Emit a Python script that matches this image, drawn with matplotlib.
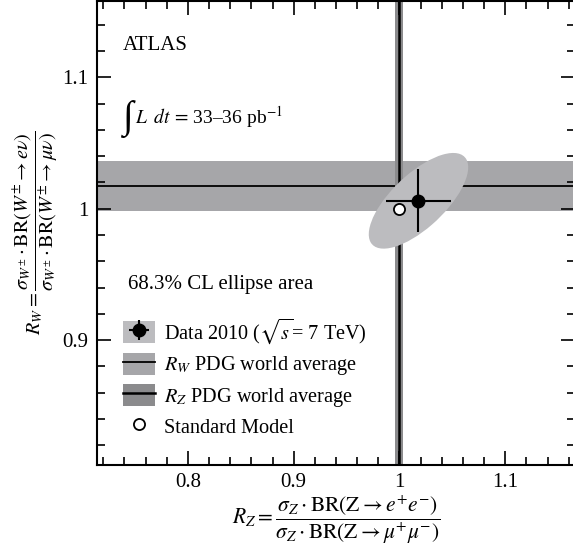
import numpy as np
import matplotlib
matplotlib.use('Agg')
import matplotlib.pyplot as plt
from matplotlib.patches import Ellipse, Patch
from matplotlib.lines import Line2D

plt.rcParams['font.family'] = ['Liberation Serif', 'DejaVu Serif']
plt.rcParams['mathtext.fontset'] = 'stix'
plt.rcParams['font.size'] = 15

# measured ratios (R_Z, R_W) with uncertainties and correlation
data_rz = 1.018
data_rz_err = 0.031
data_rw = 1.006
data_rw_err = 0.024
data_rho = 0.7

# PDG world averages
pdg_rw = 1.017
pdg_rw_err = 0.019
pdg_rz = 0.9995
pdg_rz_err = 0.0036

# Standard Model expectation
sm_rz = 1.0
sm_rw = 1.0

ell_color = '#bcbcbf'
rw_color = '#a6a6a9'
rz_color = '#8b8b8d'

fig = plt.figure(figsize=(5.73, 5.54), dpi=100)
ax = fig.add_axes([97/573, 89/554, 478/573, 464/554])

# world average bands
ax.axhspan(pdg_rw - pdg_rw_err, pdg_rw + pdg_rw_err, color=rw_color, lw=0, zorder=1)
ax.axhline(pdg_rw, color='black', lw=1.3, zorder=1.1)
ax.axvspan(pdg_rz - pdg_rz_err, pdg_rz + pdg_rz_err, color=rz_color, lw=0, zorder=1.2)
ax.axvline(pdg_rz, color='black', lw=1.8, zorder=1.3)

# 68.3% CL ellipse (delta chi2 = 2.30)
cov = np.array([[data_rz_err**2, data_rho*data_rz_err*data_rw_err],
                [data_rho*data_rz_err*data_rw_err, data_rw_err**2]])
vals, vecs = np.linalg.eigh(cov)
k = np.sqrt(2.30)
ang = np.degrees(np.arctan2(vecs[1, 1], vecs[0, 1]))
ell = Ellipse((data_rz, data_rw), 2*k*np.sqrt(vals[1]), 2*k*np.sqrt(vals[0]),
              angle=ang, facecolor=ell_color, edgecolor='none', zorder=2)
ax.add_patch(ell)

eb = ax.errorbar(data_rz, data_rw, xerr=data_rz_err, yerr=data_rw_err, fmt='o',
                 color='black', ms=9, elinewidth=1.5, capsize=0, zorder=4)
ax.plot(sm_rz, sm_rw, 'o', mfc='white', mec='black', mew=1.3, ms=8, zorder=3)

ax.set_xlim(0.714, 1.166)
ax.set_ylim(0.805, 1.158)
ax.set_xticks([0.8, 0.9, 1.0, 1.1])
ax.set_xticklabels(['0.8', '0.9', '1', '1.1'])
ax.set_yticks([0.9, 1.0, 1.1])
ax.set_yticklabels(['0.9', '1', '1.1'])
ax.set_xticks(np.arange(0.72, 1.17, 0.02), minor=True)
ax.set_yticks(np.arange(0.82, 1.16, 0.02), minor=True)
ax.tick_params(which='both', direction='in', top=True, right=True, width=1.2, labelsize=15)
ax.tick_params(which='major', length=10, pad=6)
ax.tick_params(which='minor', length=6)
for s in ax.spines.values():
    s.set_linewidth(1.5)

ax.set_xlabel(r'$R_Z = \dfrac{\sigma_Z\cdot\mathrm{BR}(\mathrm{Z}\rightarrow e^{+}e^{-})}'
              r'{\sigma_Z\cdot\mathrm{BR}(\mathrm{Z}\rightarrow \mu^{+}\mu^{-})}$',
              fontsize=15.5, labelpad=1)
ax.set_ylabel(r'$R_W = \dfrac{\sigma_{W^{\pm}}\cdot\mathrm{BR}(W^{\pm}\rightarrow e\nu)}'
              r'{\sigma_{W^{\pm}}\cdot\mathrm{BR}(W^{\pm}\rightarrow \mu\nu)}$',
              fontsize=14.5, labelpad=2)

ax.text(0.055, 0.905, 'ATLAS', transform=ax.transAxes, fontsize=15, va='center')
ax.text(0.054, 0.745, '∫', transform=ax.transAxes, fontsize=28, va='center')
ax.text(0.08, 0.75, r'$L\;\;dt\,=\,$' + '33–36 pb' + r'$^{-1}$',
        transform=ax.transAxes, fontsize=14, va='center')
ax.text(0.065, 0.39, '68.3% CL ellipse area', transform=ax.transAxes, fontsize=15, va='center')

# legend
h_data = (Patch(facecolor=ell_color, edgecolor='none'), eb)
h_rw = (Patch(facecolor=rw_color, edgecolor='none'), Line2D([], [], color='black', lw=1.3))
h_rz = (Patch(facecolor=rz_color, edgecolor='none'), Line2D([], [], color='black', lw=1.8))
h_sm = Line2D([], [], ls='none', marker='o', mfc='white', mec='black', mew=1.3, ms=8)
ax.legend([h_data, h_rw, h_rz, h_sm],
          [r'Data 2010 ($\sqrt{s}$= 7 TeV)', r'$R_W$ PDG world average',
           r'$R_Z$ PDG world average', 'Standard Model'],
          loc='upper left', bbox_to_anchor=(0.054, 0.32), frameon=False, fontsize=14.6,
          handlelength=1.6, handleheight=1.3, handletextpad=0.45, labelspacing=0.32,
          borderpad=0, borderaxespad=0)

fig.savefig('out.png', dpi=100)
